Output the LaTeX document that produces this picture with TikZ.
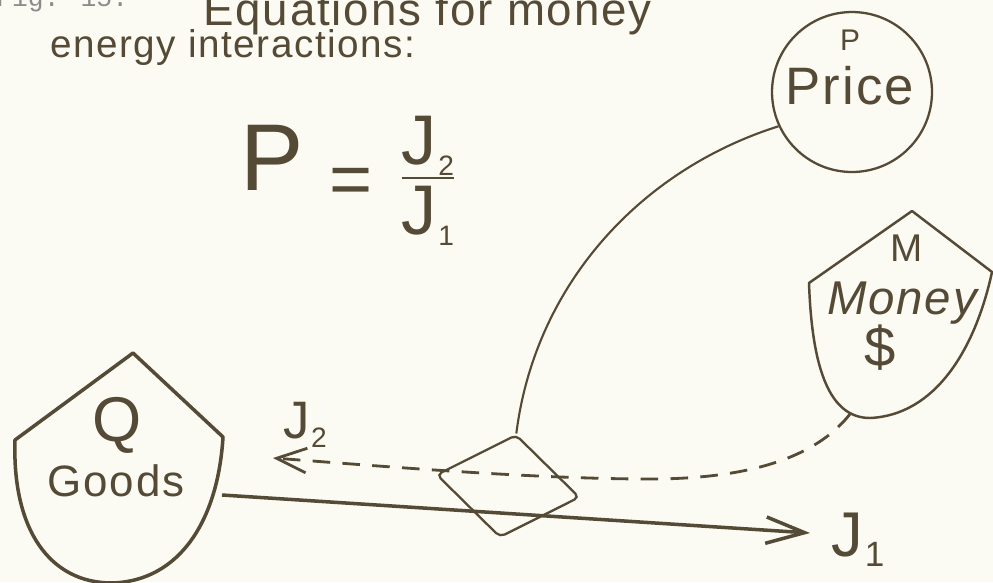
\RequirePackage{fix-cm}
\documentclass[tikz,border=0pt]{standalone}
\usepackage{amsmath}
\usepackage{fontspec}
\usetikzlibrary{arrows.meta,shapes.geometric}
\newfontfamily\hand[LetterSpace=4]{Liberation Sans}
\newfontfamily\typer{Liberation Mono}
\definecolor{ink}{RGB}{84,74,54}
\definecolor{paper}{RGB}{251,250,243}
\newcommand\fs[1]{\fontsize{#1}{#1}\selectfont}
\newcommand\jsub[2]{J\kern1pt\raisebox{-0.3ex}{\fs{#1}#2}}
\begin{document}
\begin{tikzpicture}[x=0.02cm, y=-0.02cm,
  hand/.style={text=ink, inner sep=0pt},
  shieldline/.style={draw=ink, line width=1.4pt, line join=round},
  hub/.style={diamond, draw=ink, line width=1.3pt, rounded corners=3pt, minimum width=2.9cm, minimum height=2.08cm, inner sep=0pt, rotate=-9},
  circ/.style={circle, draw=ink, line width=1.3pt, minimum size=3.2cm, inner sep=0pt},
  wire/.style={draw=ink, line width=1.2pt},
  goodsflow/.style={draw=ink, line width=2pt, -{Straight Barb[length=22pt, width=15pt, line width=2pt]}},
  moneyflow/.style={draw=ink, line width=1.6pt, dash pattern=on 10pt off 7pt, -{Straight Barb[length=17pt, width=14pt, line width=1.6pt]}}]
\useasboundingbox (0,0) rectangle (993,582);
\fill[paper] (0,0) rectangle (993,582);
% heading
\node[font=\typer\fs{15}, text=black!45, inner sep=0pt, anchor=base west] (fignum) at (-4,6) {Fig. 15.};
\node[hand, font=\hand\fs{26}, anchor=base west] (title) at (203,25) {Equations for money};
\node[hand, font=\hand\fs{22}, anchor=base west] (subtitle) at (50,57) {energy interactions:};
\node[hand, font=\hand\fs{54}, anchor=base west] (eq) at (240,202) {$\text{\raisebox{0.24cm}{P}}\mathrel{\text{\fs{42}\raisebox{-0.04cm}{=}}}\frac{\text{\fs{40}\jsub{16}{2}}}{\text{\fs{40}\jsub{16}{1}}}$};
% goods
\draw[shieldline, line width=2pt] (133,353) -- (15,440) .. controls (12,530) and (50,583) .. (112,583) .. controls (180,581) and (218,520) .. (223,437) -- cycle;
\node[hand, font=\hand\fs{36}] (goodsQ) at (117,425) {Q};
\node[hand, font=\hand\fs{25}] (goods) at (116,481) {Goods};
\coordinate (goods-e) at (222,495);
% price
\node[circ] (price) at (852,92) {};
\node[hand, font=\hand\fs{17}] (priceP) at (850,40) {P};
\node[hand, font=\hand\fs{30}] (pricetxt) at (850,86) {Price};
% money
\draw[shieldline] (912,211) -- (809,283) .. controls (812,370) and (830,418) .. (870,418) .. controls (935,415) and (975,350) .. (992,272) -- cycle;
\node[hand, font=\hand\fs{22}] (moneyM) at (907,248) {M};
\node[hand, font=\hand\fs{27}\itshape] (money) at (902,303) {Money};
\node[hand, font=\hand\fs{32}] (moneyD) at (880,348) {\$};
\coordinate (money-s) at (850,414);
% exchange
\node[hub] (hub) at (508,486) {};
\draw[wire] (hub.north) .. controls (535,285) and (640,170) .. (price.205);
\coordinate (j1end) at (810,533);
\coordinate (j2end) at (273,458);
\draw[goodsflow] (goods-e) -- (j1end);
\draw[moneyflow] (money-s) .. controls (810,465) and (730,480) .. (640,479) .. controls (520,478) and (380,466) .. (j2end);
\node[hand, font=\hand\fs{30}] (j2) at (305,425) {\jsub{16}{2}};
\node[hand, font=\hand\fs{36}] (j1) at (858,540) {\jsub{20}{1}};
\end{tikzpicture}
\end{document}
